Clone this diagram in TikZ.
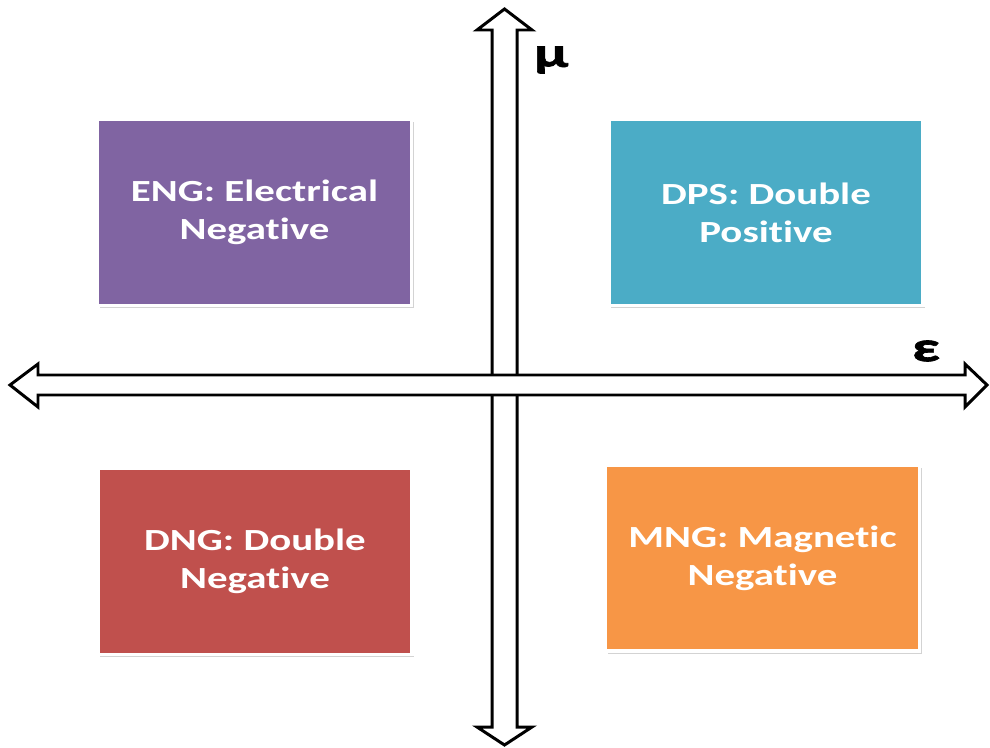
\documentclass[tikz,border=0pt]{standalone}
\usepackage{fontspec}
\setmainfont{Carlito}
\newfontfamily\boxfont[FakeStretch=1.33, RawFeature=-liga]{Carlito}
\newfontfamily\labfont[FakeStretch=1.45, FakeBold=1.5]{Carlito}
\usetikzlibrary{shadows}
\definecolor{engc}{HTML}{8064A2}
\definecolor{dpsc}{HTML}{4BACC6}
\definecolor{dngc}{HTML}{C0504D}
\definecolor{mngc}{HTML}{F79646}
\begin{document}
\begin{tikzpicture}[x=0.02cm,y=-0.02cm,
  quad/.style={draw=white, line width=2.2pt, minimum width=6.28cm, minimum height=3.72cm,
    text=white, font=\boxfont\bfseries\fontsize{17.5}{21.5}\selectfont, align=center,
    drop shadow={shadow xshift=1.2pt, shadow yshift=-1.5pt, opacity=0.35, fill=gray}},
  axis/.style={draw=black, fill=white, line width=1.7pt, line join=miter},
  axlabel/.style={font=\labfont\bfseries\fontsize{24}{28}\selectfont, text=black, inner sep=0pt}]
\useasboundingbox (0,0) rectangle (990,747);
% boxes
\node[quad, fill=engc] (eng) at (254.5,212.5) {ENG: Electrical\\Negative};
\node[quad, fill=dpsc] (dps) at (766,212.5) {DPS: Double\\Positive};
\node[quad, fill=dngc] (dng) at (255,561.5) {DNG: Double\\Negative};
\node[quad, fill=mngc] (mng) at (762.5,558) {MNG: Magnetic\\Negative};
% vertical double arrow (mu)
\draw[axis] (504.5,9) -- (532,30) -- (517,30) -- (517,727) -- (532,727) -- (504.5,745)
  -- (477,727) -- (492,727) -- (492,30) -- (477,30) -- cycle;
% horizontal double arrow (epsilon)
\draw[axis] (10,385) -- (38,364) -- (38,375) -- (965,375) -- (965,364) -- (987,385)
  -- (965,407) -- (965,395) -- (38,395) -- (38,407) -- cycle;
\node[axlabel] (mu) at (551,60) {μ};
\node[axlabel] (eps) at (926,351) {ε};
\end{tikzpicture}
\end{document}
